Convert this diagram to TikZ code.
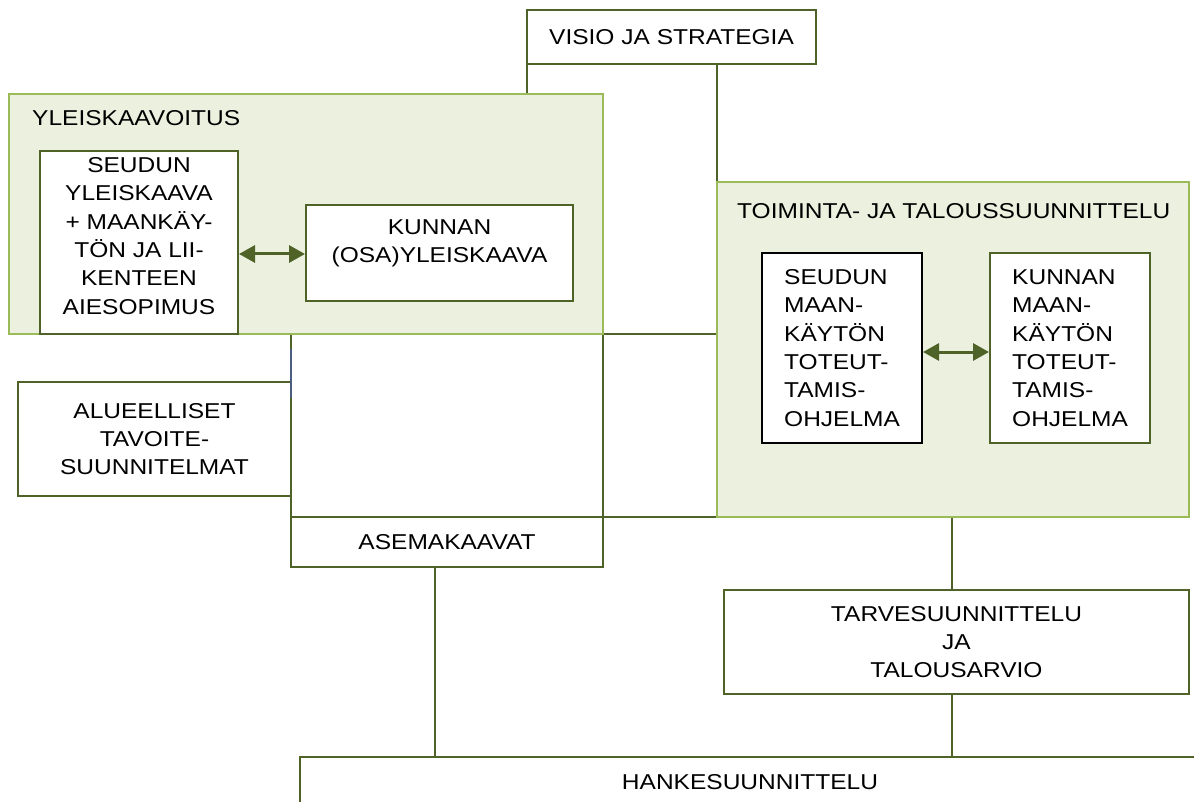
\documentclass[tikz,border=0pt]{standalone}
\usepackage{fontspec}
\setmainfont{Liberation Sans}[FakeStretch=1.14]
\usetikzlibrary{arrows.meta,calc}
\definecolor{gfill}{HTML}{EBF1DE}
\definecolor{gline}{HTML}{9BBB59}
\definecolor{dline}{HTML}{4F6228}
\definecolor{bseg}{HTML}{4A5F80}
\pgfdeclarelayer{bg}
\pgfsetlayers{bg,main}
\begin{document}
\begin{tikzpicture}[x=1pt,y=-1pt,
  font=\fontsize{21.5}{28.3}\selectfont,
  group/.style={draw=gline, fill=gfill, line width=2.5pt, rectangle, inner sep=0, outer sep=0, anchor=north west},
  box/.style={draw=dline, fill=white, line width=2pt, rectangle, inner sep=0, outer sep=0, anchor=north west, align=center},
  blackbox/.style={box, draw=black},
  txt/.style={inner sep=0, align=center},
  ltxt/.style={inner sep=0, align=left, anchor=west},
  conn/.style={draw=dline, line width=2pt},
  biarrow/.style={dline, line width=3pt, shorten <=1pt, shorten >=1pt, {Triangle[length=16pt,width=17pt]}-{Triangle[length=16pt,width=17pt]}}
]
\useasboundingbox (0,0) rectangle (1194,802);

% top box
\node[box, minimum width=289, minimum height=54] (visio) at (527,10) {VISIO JA STRATEGIA};

% YLEISKAAVOITUS group
\node[group, minimum width=594, minimum height=240] (yleis) at (9,94) {};
\node[ltxt] (yleistitle) at (32,118) {YLEISKAAVOITUS};
\node[box, minimum width=198, minimum height=183] (seuyk) at (40,151) {};
\node[txt] (seuyktxt) at (139,236) {SEUDUN\\YLEISKAAVA\\+ MAANKÄY-\\TÖN JA LII-\\KENTEEN\\AIESOPIMUS};
\node[box, minimum width=267, minimum height=96] (kunyk) at (306,205) {};
\node[txt] (kunyktxt) at (439.5,243) {KUNNAN\\(OSA)YLEISKAAVA};
\draw[biarrow] (seuyk.east |- 0,254) -- (kunyk.west |- 0,254);

% TOIMINTA group
\node[group, minimum width=472, minimum height=335] (toim) at (717,182) {};
\node[ltxt] (toimtitle) at (737,211) {TOIMINTA- JA TALOUSSUUNNITTELU};
\node[blackbox, minimum width=160, minimum height=190] (seumk) at (762,253) {};
\node[ltxt] (seumktxt) at (784,348) {SEUDUN\\MAAN-\\KÄYTÖN\\TOTEUT-\\TAMIS-\\OHJELMA};
\node[box, minimum width=160, minimum height=190] (kunmk) at (990,253) {};
\node[ltxt] (kunmktxt) at (1012,348) {KUNNAN\\MAAN-\\KÄYTÖN\\TOTEUT-\\TAMIS-\\OHJELMA};
\draw[biarrow] (seumk.east |- 0,352) -- (kunmk.west |- 0,352);

% other boxes
\node[box, minimum width=273, minimum height=114] (alue) at (18,382) {ALUEELLISET\\TAVOITE-\\SUUNNITELMAT};
\node[box, minimum width=312, minimum height=50] (asema) at (291,517) {ASEMAKAAVAT};
\node[box, minimum width=465, minimum height=104] (tarve) at (724,590) {TARVESUUNNITTELU\\JA\\TALOUSARVIO};
\node[box, minimum width=950, minimum height=90] (hanke) at (300,757) {};
\node[txt] (hanketxt) at (750,782) {HANKESUUNNITTELU};

% connectors
\coordinate (asemadown) at ($(asema.south)+(-12,0)$);
\coordinate (tarvex) at (952,0);
\coordinate (bsegA) at ($(alue.north east)+(0,-33)$);
\coordinate (bsegB) at ($(alue.north east)+(0,16)$);
\begin{pgfonlayer}{bg}
\fill[white] (0,0) rectangle (1194,802);
\draw[conn] (visio.south west) -- (visio.south west |- yleis.north);
\draw[conn] (toim.north west |- visio.south) -- (toim.north west);
\draw[conn] (asema.north west |- yleis.south) -- (asema.north west);
\draw[conn] (asema.north east |- yleis.south) -- (asema.north east);
\draw[conn] (asema.north east |- yleis.south) -- (toim.west |- yleis.south);
\draw[conn] (asema.north west) -- (toim.west |- asema.north);
\draw[conn] (asemadown) -- (asemadown |- hanke.north);
\draw[conn] (tarvex |- toim.south) -- (tarvex |- tarve.north);
\draw[conn] (tarvex |- tarve.south) -- (tarvex |- hanke.north);
\end{pgfonlayer}
\draw[bseg, line width=2pt] (bsegA) -- (bsegB);
\end{tikzpicture}
\end{document}
